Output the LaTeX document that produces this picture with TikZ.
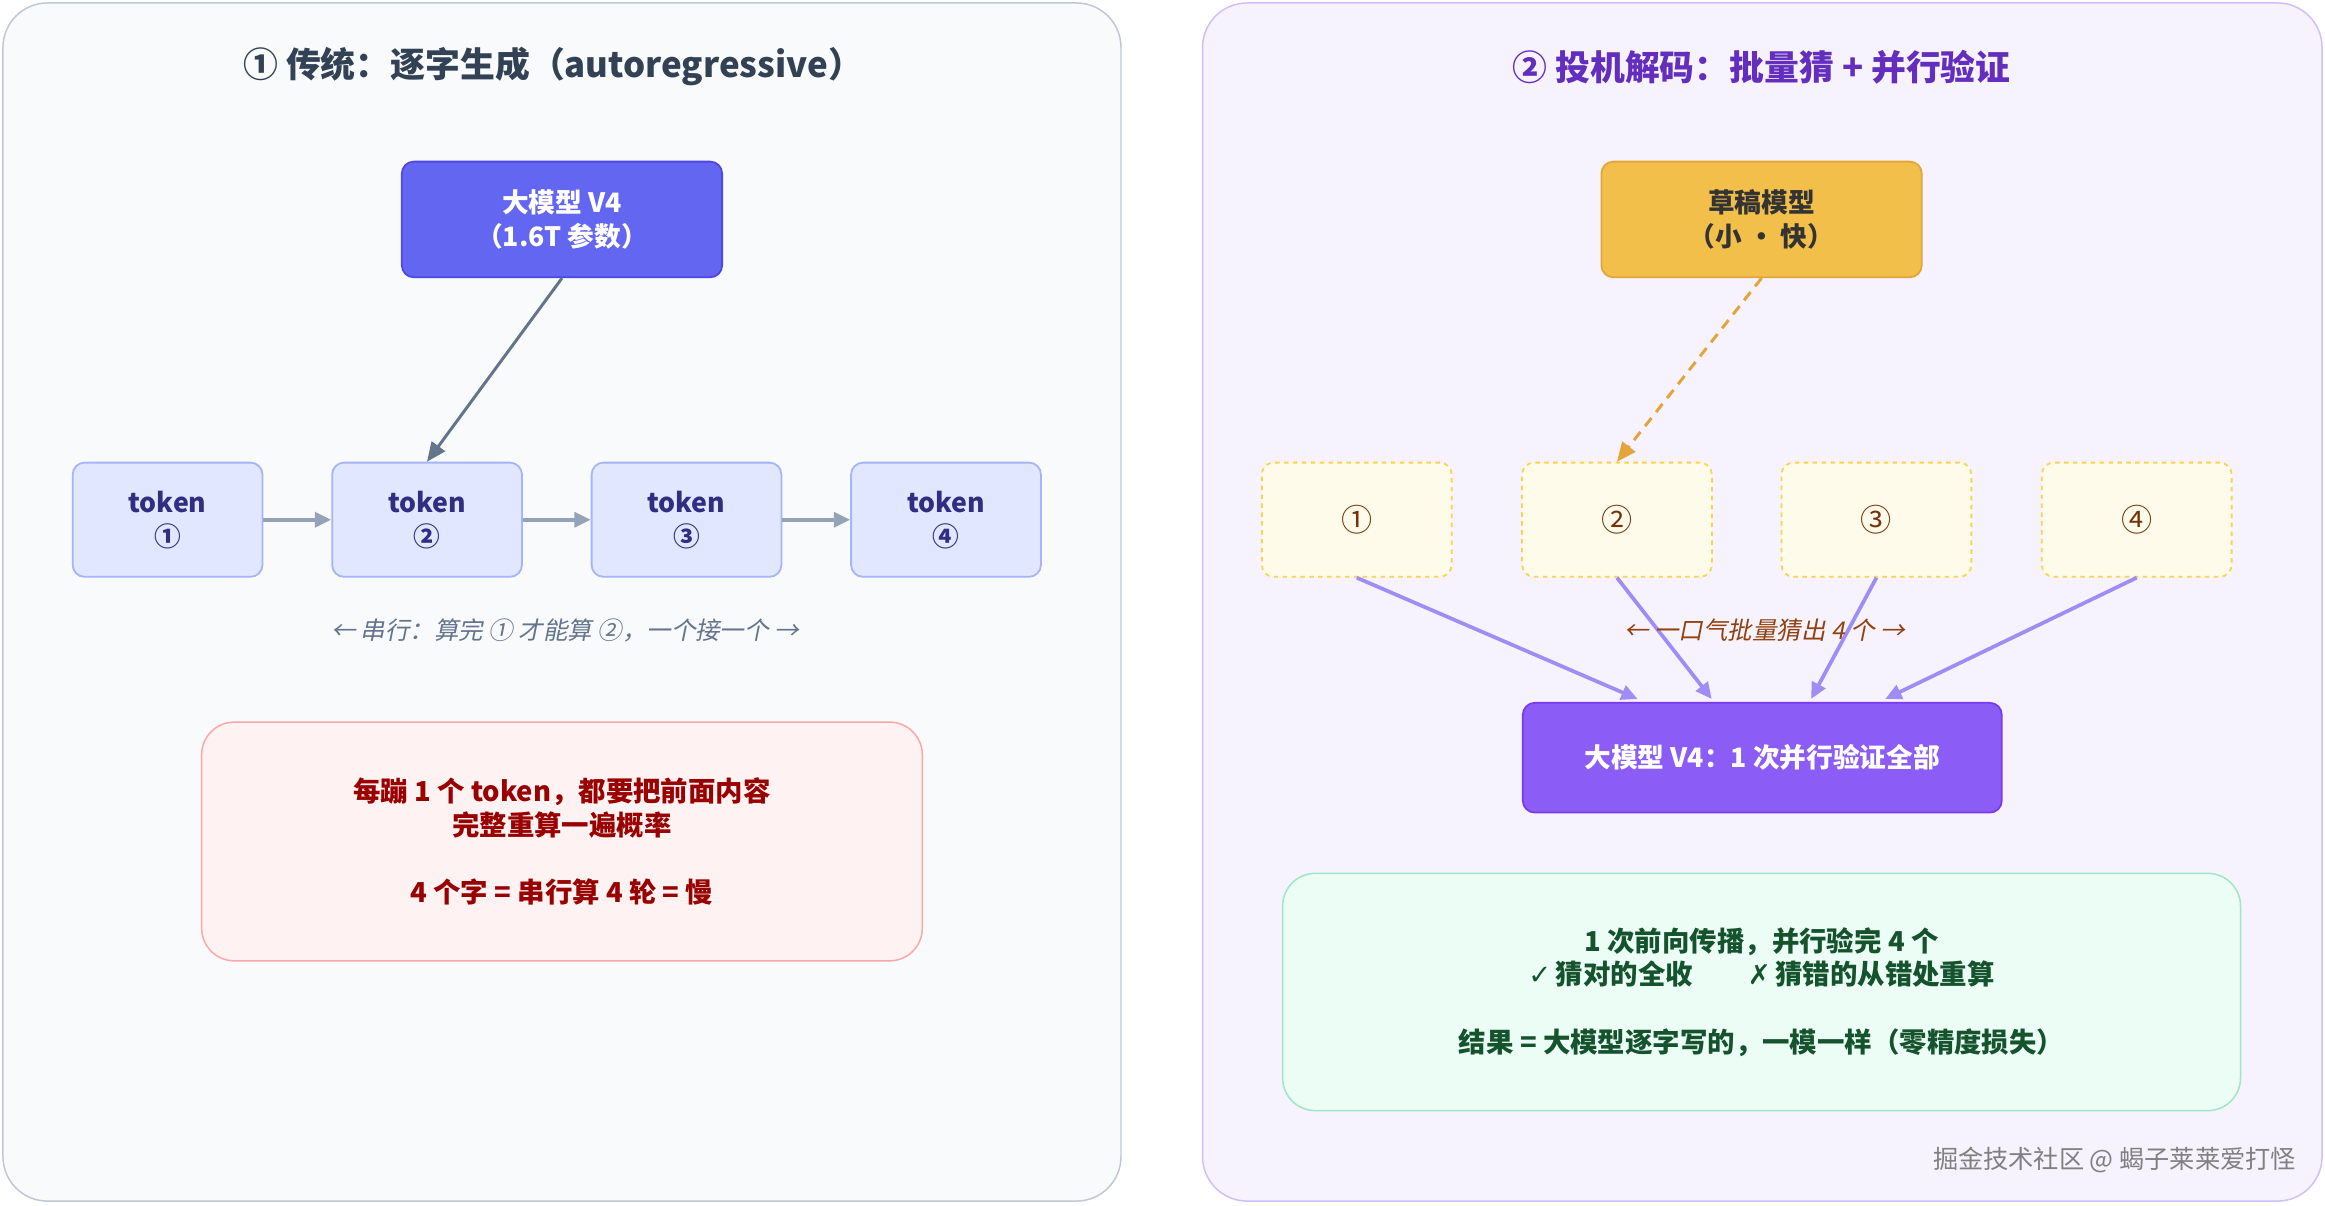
\documentclass[tikz,border=0pt]{standalone}
\usepackage{fontspec}
\setmainfont{Noto Sans CJK SC}
\newfontfamily\cjkit{Noto Sans CJK SC}[FakeSlant=0.2]
\newfontfamily\sym{DejaVu Sans}
\usetikzlibrary{calc,arrows.meta}
\definecolor{slate}{HTML}{334155}
\definecolor{slatemid}{HTML}{64748B}
\definecolor{slatelt}{HTML}{94A3B8}
\definecolor{slatebg}{HTML}{F8FAFC}
\definecolor{indigo}{HTML}{6366F1}
\definecolor{indigodk}{HTML}{4F46E5}
\definecolor{tokfill}{HTML}{E0E7FF}
\definecolor{tokline}{HTML}{A5B4FC}
\definecolor{toktext}{HTML}{312E81}
\definecolor{violet}{HTML}{8B5CF6}
\definecolor{violetdk}{HTML}{7C3AED}
\definecolor{violetlt}{HTML}{A08CF5}
\definecolor{amber}{HTML}{F2C04A}
\definecolor{amberdk}{HTML}{E3A53A}
\definecolor{amberln}{HTML}{FCD34D}
\definecolor{amberbg}{HTML}{FFFBEB}
\definecolor{brown}{HTML}{92400E}
\definecolor{mint}{HTML}{ECFDF5}
\definecolor{mintln}{HTML}{9EE6C4}
\definecolor{forest}{HTML}{14532D}
\tikzset{
  panel/.style={draw, rounded corners=30, line width=1pt},
  box/.style={draw, rounded corners=8, line width=1.2pt, align=center, font=\bfseries\fontsize{18}{23}\selectfont},
  tok/.style={box, fill=tokfill, draw=tokline, text=toktext, minimum width=128, minimum height=77},
  guess/.style={box, fill=amberbg, draw=amberln, dashed, text=brown!80!black, minimum width=128, minimum height=77, font=\fontsize{21}{24}\selectfont},
  note/.style={draw, rounded corners=22, line width=1pt, align=center, font=\bfseries\fontsize{18.5}{22.5}\selectfont},
  caption/.style={font=\cjkit\fontsize{16.5}{20}\selectfont},
  flow/.style={-{Triangle[length=11pt,width=10pt]}, line width=2.5pt},
}
\begin{document}
\begin{tikzpicture}[x=1pt,y=-1pt]
\useasboundingbox (0,0) rectangle (1568,813);
% Panels
\draw[panel, fill=slatebg, draw=slatelt!60] (2,2) rectangle (756,810);
\draw[panel, fill=violet!8, draw=violet!40] (811,2) rectangle (1566,810);
\node[font=\bfseries\fontsize{23.5}{28}\selectfont, text=slate] (titleL) at (373,45) {① 传统：逐字生成（autoregressive）};
\node[font=\bfseries\fontsize{23.5}{28}\selectfont, text=violetdk!80!black] (titleR) at (1188,45) {② 投机解码：批量猜 + 并行验证};

% Left: autoregressive
\node[box, fill=indigo, draw=indigodk, text=white, minimum width=216, minimum height=78] (big) at (379,148) {大模型 V4\\（1.6T 参数）};
\foreach \i/\x/\c in {1/113/①,2/288/②,3/463/③,4/638/④}
  \node[tok] (tok\i) at (\x,350.5) {token\\\c};
\foreach \a/\b in {1/2,2/3,3/4}
  \draw[flow, slatelt] (tok\a) -- (tok\b);
\draw[-{Triangle[length=13pt,width=11pt]}, line width=2pt, slatemid] (big.south) -- (tok2.north);
\node[caption, text=slatemid] (capL) at (381,425) {← 串行：算完 ① 才能算 ②，一个接一个 →};
\node[note, fill=red!5, draw=red!35, text=red!60!black, minimum width=486, minimum height=161] (slow) at (379,567.5)
  {每蹦 1 个 token，都要把前面内容\\完整重算一遍概率\\[23pt]4 个字 = 串行算 4 轮 = 慢};

% Right: speculative decoding
\node[box, fill=amber, draw=amberdk, text=black!80, minimum width=216, minimum height=78] (draft) at (1188,148) {草稿模型\\（小 · 快）};
\foreach \i/\x/\c in {1/915/①,2/1090.5/②,3/1265.5/③,4/1441/④}
  \node[guess] (g\i) at (\x,350.5) {\c};
\draw[-{Triangle[length=13pt,width=11pt]}, line width=2pt, amberdk, dash pattern=on 7pt off 5pt] (draft.south) -- (g2.north);
\node[box, fill=violet, draw=violetdk, text=white, minimum width=323, minimum height=74] (verify) at (1188.5,511) {大模型 V4：1 次并行验证全部};
\foreach \i/\d in {1/78,2/128,3/195,4/245}
  \draw[flow, violetlt] (g\i.south) -- ($(verify.north west)+(\d,-2)$);
\node[caption, text=brown] (capR) at (1190,425) {← 一口气批量猜出 4 个 →};
\node[note, fill=mint, draw=mintln, text=forest, minimum width=646, minimum height=160] (fast) at (1188,669)
  {1 次前向传播，并行验完 4 个\\{\sym ✓}\,猜对的全收\qquad{\sym ✗}\,猜错的从错处重算\\[23pt]结果 = 大模型逐字写的，一模一样（零精度损失）};
\node[font=\fontsize{17}{20}\selectfont, text=gray] (mark) at (1426,782) {掘金技术社区 @ 蝎子莱莱爱打怪};
\end{tikzpicture}
\end{document}
